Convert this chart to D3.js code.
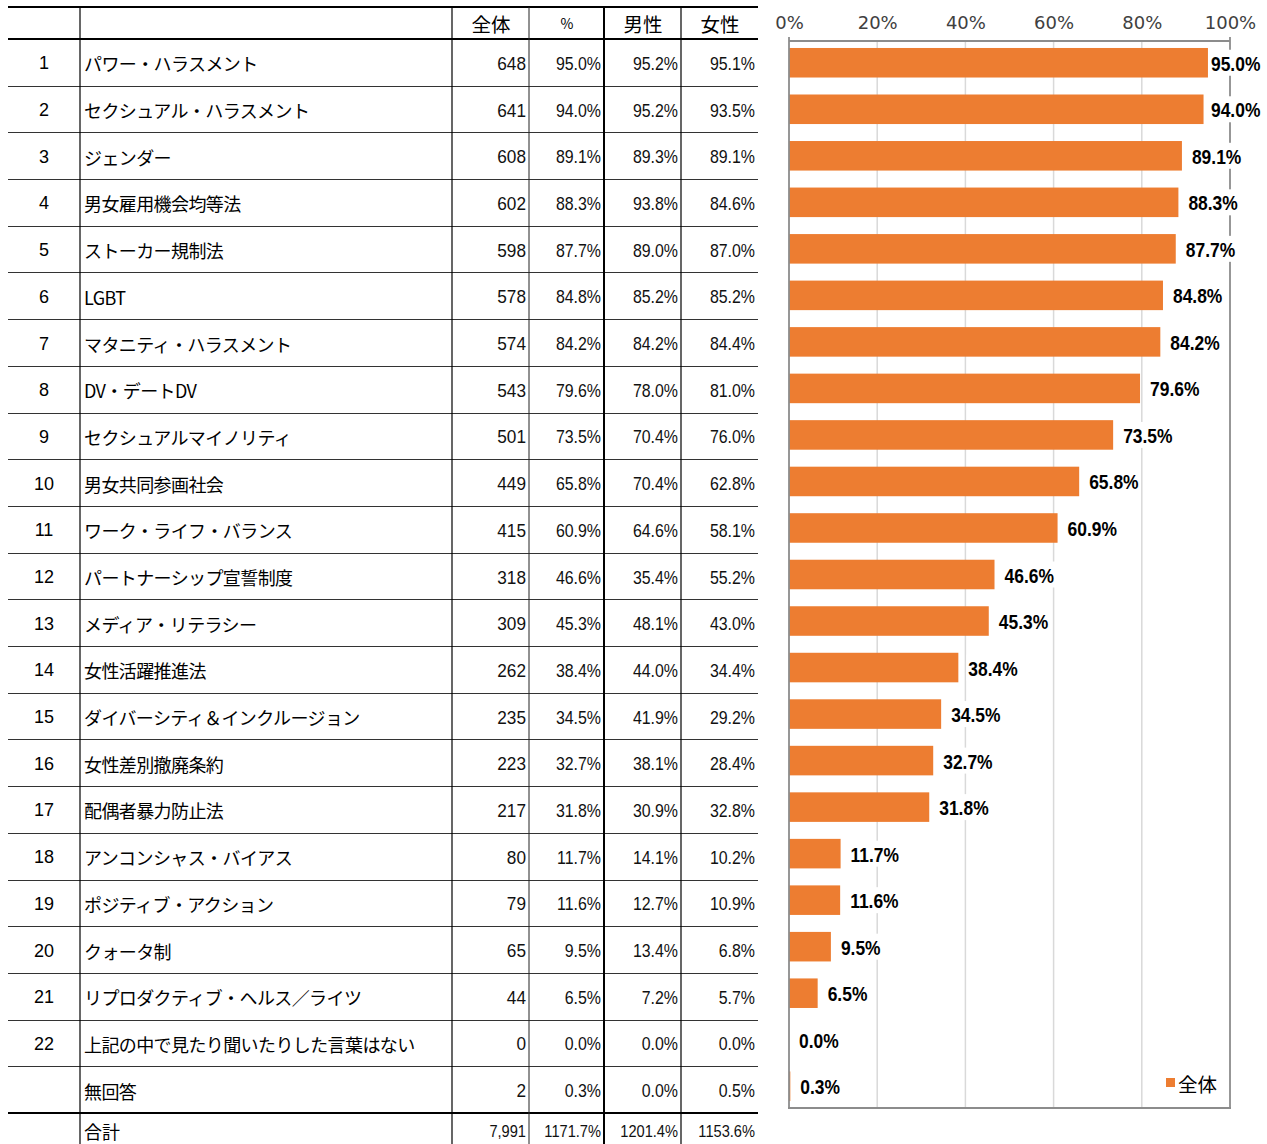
<!DOCTYPE html>
<html><head><meta charset="utf-8">
<script src="https://cdn.jsdelivr.net/npm/d3@7"></script>
<style>
html,body{margin:0;padding:0;background:#fff;}
svg{display:block;}
.jp{font-family:"Noto Sans CJK JP","Noto Sans",sans-serif;}
.num{font-family:"Liberation Sans",Arial,sans-serif;}
</style></head>
<body>
<svg id="c" width="1267" height="1144"></svg>
<script>
const rowNos = ["1","2","3","4","5","6","7","8","9","10","11","12","13","14","15","16","17","18","19","20","21","22",""];
const categories = ["パワー・ハラスメント","セクシュアル・ハラスメント","ジェンダー","男女雇用機会均等法","ストーカー規制法","LGBT","マタニティ・ハラスメント","DV・デートDV","セクシュアルマイノリティ","男女共同参画社会","ワーク・ライフ・バランス","パートナーシップ宣誓制度","メディア・リテラシー","女性活躍推進法","ダイバーシティ＆インクルージョン","女性差別撤廃条約","配偶者暴力防止法","アンコンシャス・バイアス","ポジティブ・アクション","クォータ制","リプロダクティブ・ヘルス／ライツ","上記の中で見たり聞いたりした言葉はない","無回答"];
const counts = [648,641,608,602,598,578,574,543,501,449,415,318,309,262,235,223,217,80,79,65,44,0,2];
const totalPct = [95.0,94.0,89.1,88.3,87.7,84.8,84.2,79.6,73.5,65.8,60.9,46.6,45.3,38.4,34.5,32.7,31.8,11.7,11.6,9.5,6.5,0.0,0.3];
const malePct = [95.2,95.2,89.3,93.8,89.0,85.2,84.2,78.0,70.4,70.4,64.6,35.4,48.1,44.0,41.9,38.1,30.9,14.1,12.7,13.4,7.2,0.0,0.0];
const femalePct = [95.1,93.5,89.1,84.6,87.0,85.2,84.4,81.0,76.0,62.8,58.1,55.2,43.0,34.4,29.2,28.4,32.8,10.2,10.9,6.8,5.7,0.0,0.5];
const headers = ["全体","%","男性","女性"];
const totalRow = {label:"合計", count:"7,991", pct:"1171.7%", male:"1201.4%", female:"1153.6%"};
const axisTicks = [0,20,40,60,80,100];
const seriesName = "全体";

const svg = d3.select("#c");
const ORANGE = "#ED7D31";

function squeeze(sel, f) {
  sel.each(function () {
    const w = this.getComputedTextLength();
    this.setAttribute("textLength", (w * f).toFixed(2));
    this.setAttribute("lengthAdjust", "spacingAndGlyphs");
  });
  return sel;
}

/* ---------- TABLE ---------- */
const tbl = svg.append("g");
const tLeft = 8, tRight = 758;
const colX = [80, 452, 529, 604, 681];
const rowScale = d3.scaleLinear().domain([0, 23]).range([39, 1113]);
const rowH = rowScale(1) - rowScale(0);

for (let i = 1; i < 23; i++) {
  const yy = Math.round(rowScale(i)) + 0.5;
  tbl.append("line").attr("x1", tLeft).attr("x2", tRight).attr("y1", yy).attr("y2", yy)
    .attr("stroke", "#333").attr("stroke-width", 1);
}
[7, 39, 1113].forEach(yy => {
  tbl.append("line").attr("x1", tLeft).attr("x2", tRight).attr("y1", yy).attr("y2", yy)
    .attr("stroke", "#000").attr("stroke-width", 2.2);
});
const vStyles = [{c:"#000",w:1.2},{c:"#000",w:1.2},{c:"#222",w:1},{c:"#000",w:2},{c:"#000",w:1.2}];
colX.forEach((xx, i) => {
  tbl.append("line").attr("x1", xx).attr("x2", xx).attr("y1", 7).attr("y2", 1144)
    .attr("stroke", vStyles[i].c).attr("stroke-width", vStyles[i].w);
});

const headCx = [491, 567, 643, 720];
headers.forEach((h, i) => {
  tbl.append("text").attr("class", "jp").attr("x", headCx[i]).attr("y", 23)
    .attr("text-anchor", "middle").attr("dominant-baseline", "central")
    .attr("font-size", i === 1 ? 14 : 19.5).attr("fill", "#000").text(h);
});

const fmt = v => v.toFixed(1) + "%";
const rx = [526, 601, 678, 755];
categories.forEach((c, i) => {
  const cy = rowScale(i) + rowH / 2 + 1;
  const g = tbl.append("g");
  g.append("text").attr("class", "num").attr("x", 44).attr("y", cy)
    .attr("text-anchor", "middle").attr("dominant-baseline", "central")
    .attr("font-size", 18).attr("fill", "#000").text(rowNos[i]);
  g.append("text").attr("class", "jp").attr("x", 84).attr("y", cy)
    .attr("dominant-baseline", "central").attr("font-size", 18).attr("letter-spacing", -0.6)
    .attr("fill", "#000").text(c);
  const vals = [String(counts[i]), fmt(totalPct[i]), fmt(malePct[i]), fmt(femalePct[i])];
  vals.forEach((v, j) => {
    const t = g.append("text").attr("class", "num").attr("x", rx[j]).attr("y", cy)
      .attr("text-anchor", "end").attr("dominant-baseline", "central")
      .attr("font-size", 18.5).attr("fill", "#111").text(v);
    squeeze(t, j === 0 ? 0.93 : 0.86);
  });
});
{
  const cy = 1131;
  tbl.append("text").attr("class", "jp").attr("x", 84).attr("y", cy)
    .attr("dominant-baseline", "central").attr("font-size", 18).text(totalRow.label);
  const vals = [totalRow.count, totalRow.pct, totalRow.male, totalRow.female];
  vals.forEach((v, j) => {
    const t = tbl.append("text").attr("class", "num").attr("x", rx[j]).attr("y", cy)
      .attr("text-anchor", "end").attr("dominant-baseline", "central")
      .attr("font-size", 17).attr("fill", "#111").text(v);
    squeeze(t, 0.86);
  });
}

/* ---------- CHART ---------- */
const ch = svg.append("g");
const x = d3.scaleLinear().domain([0, 100]).range([789, 1230]);
const y = d3.scaleBand().domain(d3.range(categories.length)).range([41, 1108])
  .paddingInner(0.365).paddingOuter(0.15);
const plotTop = 41, plotBottom = 1108;

ch.append("g").selectAll("line").data(axisTicks.filter(t => t > 0 && t < 100)).join("line")
  .attr("x1", d => x(d)).attr("x2", d => x(d))
  .attr("y1", plotTop).attr("y2", plotBottom)
  .attr("stroke", "#d9d9d9").attr("stroke-width", 1.5);

ch.append("line").attr("x1", x(100)).attr("x2", x(100)).attr("y1", plotTop - 4).attr("y2", plotBottom)
  .attr("stroke", "#8c8c8c").attr("stroke-width", 1.8);

ch.append("g").selectAll("rect").data(totalPct).join("rect")
  .attr("x", x(0)).attr("y", (d, i) => y(i))
  .attr("width", d => Math.max(0, x(d) - x(0))).attr("height", y.bandwidth())
  .attr("fill", ORANGE);

const lblG = ch.append("g");
const SQ = 0.85;
totalPct.forEach((v, i) => {
  const cy = y(i) + y.bandwidth() / 2;
  const lx = Math.min(x(v) + 10, 1211);
  const g = lblG.append("g").attr("transform", `translate(${lx},${cy + 1}) scale(${SQ},1)`);
  const bg = g.append("rect").attr("fill", "#fff");
  const t = g.append("text").attr("class", "num").attr("x", 0).attr("y", 0)
    .attr("dominant-baseline", "central").attr("font-size", 20.5).attr("font-weight", "bold")
    .attr("fill", "#000").text(fmt(v));
  const w = t.node().getComputedTextLength();
  bg.attr("x", -2 / SQ).attr("y", -14).attr("width", w + 4 / SQ).attr("height", 26);
});

ch.append("line").attr("x1", x(0)).attr("x2", x(0)).attr("y1", plotTop - 4).attr("y2", plotBottom)
  .attr("stroke", "#8c8c8c").attr("stroke-width", 1.8);
ch.append("line").attr("x1", x(0)).attr("x2", x(100)).attr("y1", plotTop).attr("y2", plotTop)
  .attr("stroke", "#8c8c8c").attr("stroke-width", 1.8);
ch.append("line").attr("x1", x(0) - 1).attr("x2", x(100) + 1).attr("y1", plotBottom).attr("y2", plotBottom)
  .attr("stroke", "#8c8c8c").attr("stroke-width", 1.8);

const axis = d3.axisTop(x).tickValues(axisTicks).tickFormat(d => d + "%").tickSize(0).tickPadding(0);
const ag = ch.append("g").attr("transform", "translate(0,29)").call(axis);
ag.select(".domain").remove();
ag.selectAll("text").attr("font-family", "'DejaVu Sans',sans-serif").attr("font-size", 18)
  .attr("fill", "#404040").attr("dy", 0).attr("y", 0);

const lg = ch.append("g");
lg.append("rect").attr("x", 1166).attr("y", 1078).attr("width", 9).attr("height", 9).attr("fill", ORANGE);
lg.append("text").attr("class", "jp").attr("x", 1178).attr("y", 1083).attr("dominant-baseline", "central")
  .attr("font-size", 19.5).attr("fill", "#000").text(seriesName);
</script>
</body></html>
